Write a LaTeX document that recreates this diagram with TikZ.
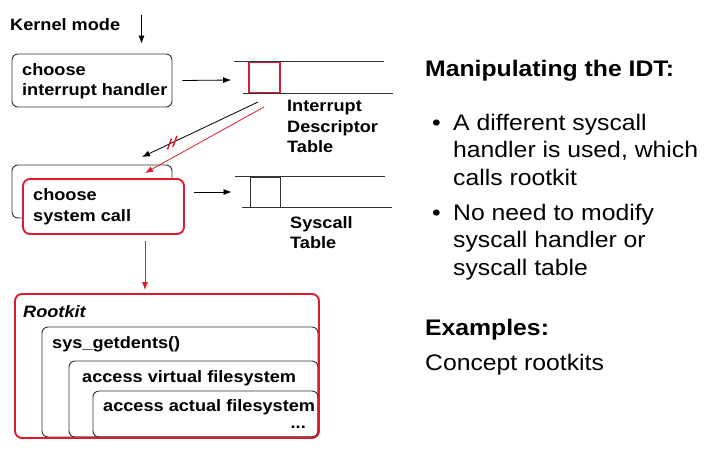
\documentclass[tikz,border=0pt]{standalone}
\usepackage{fontspec}
\setmainfont[FakeStretch=1.1]{Liberation Sans}
\usetikzlibrary{arrows.meta,calc}
\definecolor{rkred}{RGB}{222,28,45}
\definecolor{ln}{RGB}{50,50,50}
\begin{document}
\begin{tikzpicture}[x=1pt,y=-1pt,
  lbl/.style={inner sep=0pt, anchor=base west, align=left, font=\fontsize{16.5}{20.5}\selectfont\bfseries},
  body/.style={inner sep=0pt, anchor=base west, align=left, font=\fontsize{22.5}{27.5}\selectfont},
  head/.style={inner sep=0pt, anchor=base west, font=\fontsize{22.5}{27.5}\selectfont\bfseries},
  box/.style={draw=ln, line width=0.9pt, rounded corners=6pt, inner sep=0pt},
  redbox/.style={draw=rkred, line width=1.9pt, rounded corners=7pt, inner sep=0pt},
  tline/.style={draw=ln, line width=0.9pt},
  arr/.style={-{Latex[length=8pt,width=6pt]}, line width=0.8pt},
]
\useasboundingbox[fill=white] (0,0) rectangle (716,459);

% kernel mode
\node[lbl] (km) at (10,30) {Kernel mode};
\coordinate (kmtop) at (141.5,15);

% choose interrupt handler
\node[box, minimum width=160pt, minimum height=53pt] (ih) at (92,80.5) {};
\node[lbl] (ihtext) at (22,95.5) {choose\\interrupt handler};
\draw[arr] (kmtop) -- ($(ih.north)+(49.5,-10)$);

% IDT
\node[draw=rkred, line width=1.7pt, minimum width=31pt, minimum height=30.5pt, inner sep=0pt] (idtent) at (264.5,77.25) {};
\draw[tline] ($(idtent.north west)+(-14,0)$) -- ($(idtent.north west)+(136,0)$);
\draw[tline] ($(idtent.south west)+(-5,0)$) -- ($(idtent.south west)+(145,0)$);
\node[lbl] (idttext) at (287,152.5) {Interrupt\\Descriptor\\Table};
\draw[arr] ($(ih.east)+(10,0)$) -- ($(idtent.west)+(-17,2.75)$);

% diagonal arrows
\coordinate (b0) at (258,102);
\coordinate (b1) at (142,157);
\coordinate (r0) at (264,107);
\coordinate (r1) at (145,173);
\draw[arr] (b0) -- (b1);
\draw[rkred, line width=1.5pt] ($(b0)!0.763!(b1)+(-2,5.5)$) -- ++(4,-11);
\draw[rkred, line width=1.5pt] ($(b0)!0.716!(b1)+(-2,5.5)$) -- ++(4,-11);

% choose system call
\node[box, minimum width=160pt, minimum height=53pt] (scback) at (92,191.5) {};
\node[redbox, fill=white, minimum width=161pt, minimum height=55pt] (cs) at (103.5,206.5) {};
\node[lbl] (cstext) at (33,221) {choose\\system call};
\draw[arr, rkred] (r0) -- (r1);

% syscall table
\node[draw=ln, line width=0.9pt, minimum width=30pt, minimum height=30pt, inner sep=0pt] (sct) at (265,192) {};
\draw[tline] ($(sct.north west)+(-15,0)$) -- ($(sct.north west)+(135,0)$);
\draw[tline] ($(sct.south west)+(-8,0)$) -- ($(sct.south west)+(142,0)$);
\node[lbl] (scttext) at (290,248.5) {Syscall\\Table};
\draw[arr] ($(cs.east |- sct.west)+(9,0)$) -- ($(sct.west)+(-18,0)$);

% rootkit
\node[box, minimum width=276pt, minimum height=110pt] (getd) at (180,382) {};
\node[box, minimum width=249pt, minimum height=76pt] (vfs) at (193.5,399) {};
\node[box, minimum width=225pt, minimum height=46pt] (afs) at (205.5,414) {};
\node[redbox, minimum width=304pt, minimum height=144pt] (rk) at (167,366) {};
\draw[arr, rkred] ($(cs.south)+(41.5,6)$) -- ($(rk.north)+(-22,-3)$);
\node[lbl, font=\fontsize{16.5}{20.5}\selectfont\bfseries\itshape] (rktext) at (23,317) {Rootkit};
\node[lbl] (getdtext) at (52,348) {sys\_getdents()};
\node[lbl] (vfstext) at (82,382) {access virtual filesystem};
\node[lbl] (afstext) at (103,411) {access actual filesystem};
\node[lbl, anchor=base east] (dots) at (306,428) {...};

% right text
\node[head] (h1) at (425,76) {Manipulating the IDT:};
\node[body] (bul1) at (432,130) {•};
\node[body] (t1) at (453,185) {A different syscall\\handler is used, which\\calls rootkit};
\node[body] (bul2) at (432,220) {•};
\node[body] (t2) at (453,275) {No need to modify\\syscall handler or\\syscall table};
\node[head] (h2) at (425,335) {Examples:};
\node[body] (ex) at (425,370) {Concept rootkits};
\end{tikzpicture}
\end{document}
